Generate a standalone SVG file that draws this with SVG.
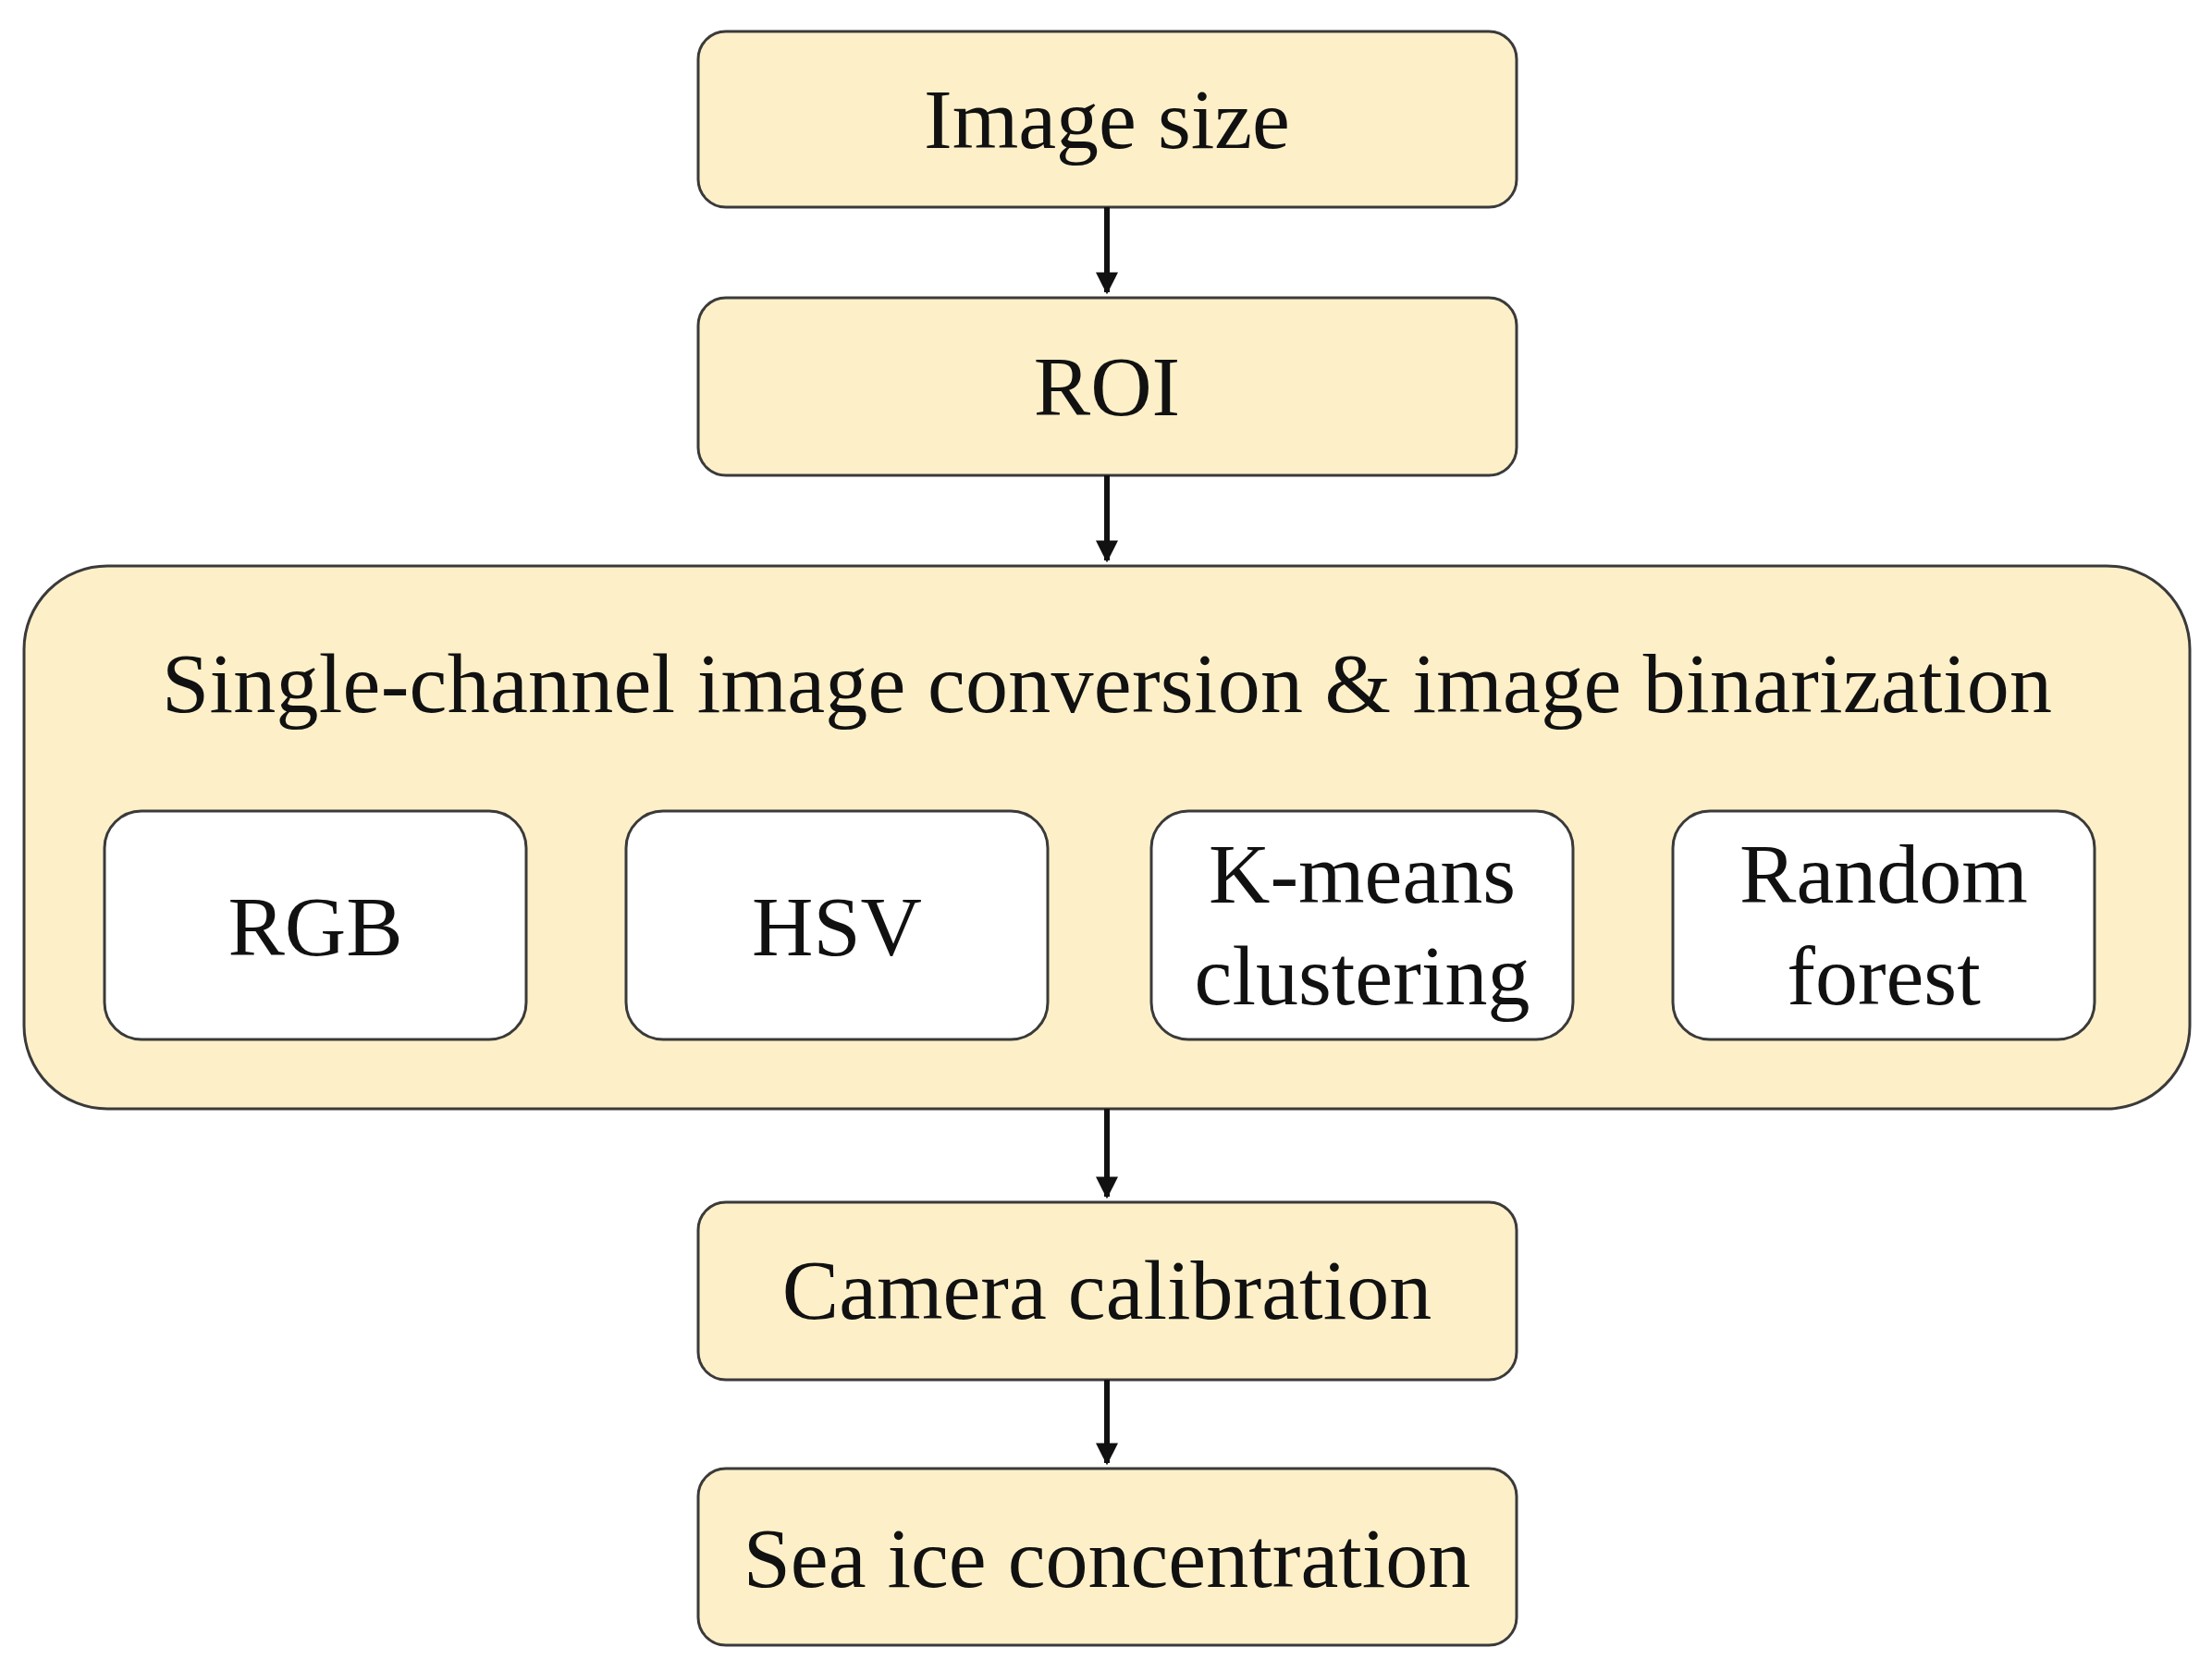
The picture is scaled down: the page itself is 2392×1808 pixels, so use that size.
<svg xmlns="http://www.w3.org/2000/svg" width="2392" height="1808" viewBox="0 0 2392 1808">
<style>
.b{fill:#fdf0c9;stroke:#3a3a3a;stroke-width:3}
.w{fill:#fff;stroke:#3a3a3a;stroke-width:3}
text{font-family:"Liberation Serif",serif;font-size:92px;fill:#111;text-anchor:middle}
.c{stroke:#111;stroke-width:6;fill:none}
</style>
<defs><marker id="a" viewBox="0 0 10 10" refX="9" refY="5" markerWidth="4" markerHeight="4" orient="auto" markerUnits="strokeWidth"><path d="M0,0L10,5L0,10z" fill="#111"/></marker></defs>
<rect width="2392" height="1808" fill="#fff"/>
<g id="n1"><rect class="b" x="755" y="34" width="885" height="190" rx="30"/><text x="1197" y="160">Image size</text></g>
<g id="n2"><rect class="b" x="755" y="322" width="885" height="192" rx="30"/><text x="1197" y="449">ROI</text></g>
<g id="n3"><rect class="b" x="26" y="612" width="2342" height="587" rx="90"/><text x="1197" y="770" textLength="2044" lengthAdjust="spacing">Single-channel image conversion &amp; image binarization</text></g>
<g id="n4"><rect class="w" x="113" y="877" width="456" height="247" rx="40"/><text x="341" y="1033">RGB</text></g>
<g id="n5"><rect class="w" x="677" y="877" width="456" height="247" rx="40"/><text x="905" y="1033">HSV</text></g>
<g id="n6"><rect class="w" x="1245" y="877" width="456" height="247" rx="40"/><text x="1473" y="976">K-means</text><text x="1473" y="1086">clustering</text></g>
<g id="n7"><rect class="w" x="1809" y="877" width="456" height="247" rx="40"/><text x="2037" y="976">Random</text><text x="2037" y="1086">forest</text></g>
<g id="n8"><rect class="b" x="755" y="1300" width="885" height="192" rx="30"/><text x="1197" y="1426">Camera calibration</text></g>
<g id="n9"><rect class="b" x="755" y="1588" width="885" height="191" rx="30"/><text x="1197" y="1716">Sea ice concentration</text></g>
<g id="connectors">
<line class="c" x1="1197" y1="224" x2="1197" y2="316" marker-end="url(#a)"/>
<line class="c" x1="1197" y1="514" x2="1197" y2="606" marker-end="url(#a)"/>
<line class="c" x1="1197" y1="1199" x2="1197" y2="1294" marker-end="url(#a)"/>
<line class="c" x1="1197" y1="1492" x2="1197" y2="1582" marker-end="url(#a)"/>
</g>
</svg>
